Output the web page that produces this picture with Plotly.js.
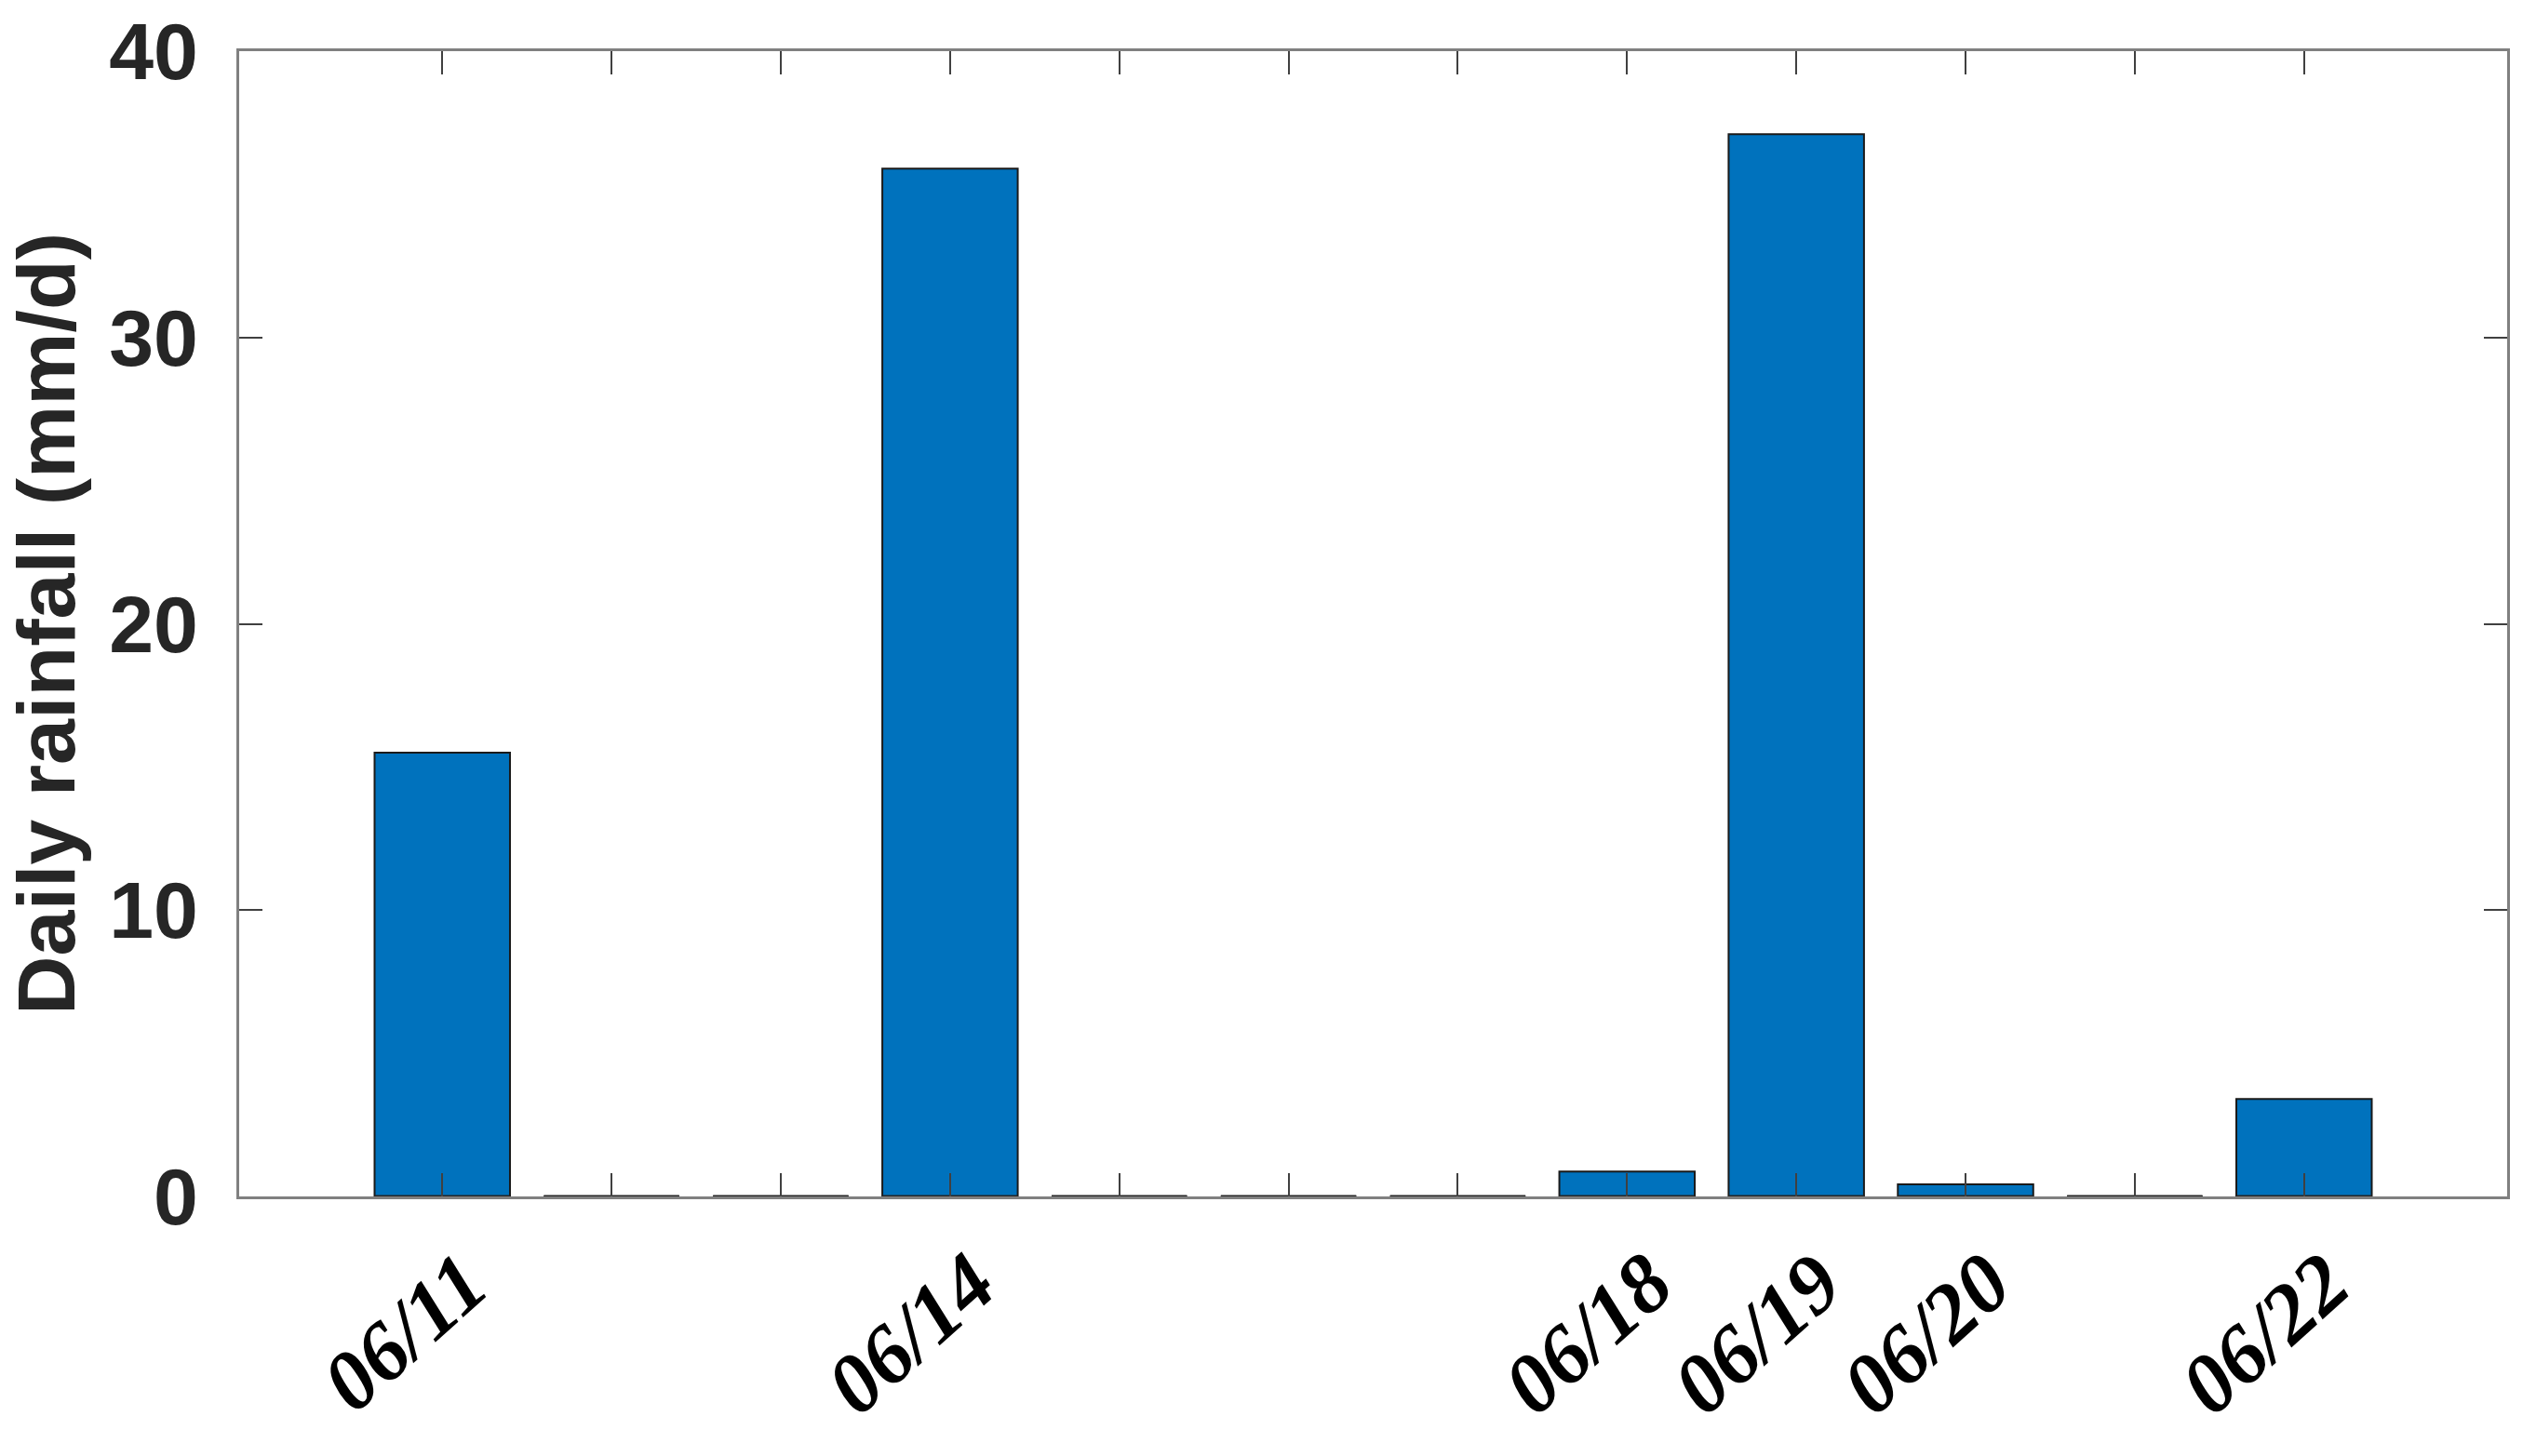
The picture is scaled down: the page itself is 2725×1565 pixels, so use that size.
<!DOCTYPE html>
<html>
<head>
<meta charset="utf-8">
<script src="https://cdn.plot.ly/plotly-3.0.1.min.js"></script>
<style>
  html, body { margin: 0; padding: 0; background: #ffffff; }
  #chart { width: 2725px; height: 1565px; }
</style>
</head>
<body>
<div id="chart"></div>
<script>
// Lluvia diaria, junio (día del mes en el eje x)
const days = [11, 12, 13, 14, 15, 16, 17, 18, 19, 20, 21, 22]
const dateLabels = ['06/11', '06/12', '06/13', '06/14', '06/15', '06/16',
  '06/17', '06/18', '06/19', '06/20', '06/21', '06/22']
const rainfall = [15.5, 0, 0, 35.9, 0, 0, 0, 0.87, 37.1, 0.42, 0, 3.4]
const yTicks = [0, 10, 20, 30, 40]

const barWidth = 0.8

// solo se rotulan los días con lluvia
const tickText = dateLabels.map((d, i) => rainfall[i] > 0 ? d : '')

// base oscura de cada barra (las de valor 0 también se ven como segmento)
const baseX = []
const baseY = []
days.forEach(d => {
  baseX.push(d - barWidth / 2, d + barWidth / 2, null)
  baseY.push(0, 0, null)
})

const traces = [
  {
    x: days,
    y: rainfall,
    type: 'bar',
    width: barWidth,
    marker: {
      color: '#0072BD',
      line: { color: '#1a1a1a', width: 2 },
    },
    hoverinfo: 'x+y',
  },
  {
    x: baseX,
    y: baseY,
    type: 'scatter',
    mode: 'lines',
    line: { color: '#262626', width: 3 },
    cliponaxis: false,
    hoverinfo: 'skip',
  },
]

const layout = {
  width: 2725,
  height: 1565,
  showlegend: false,
  plot_bgcolor: '#ffffff',
  paper_bgcolor: '#ffffff',
  margin: { l: 257, r: 31, t: 55, b: 279 },
  xaxis: {
    range: [9.8, 23.2],
    tickmode: 'array',
    tickvals: days,
    ticktext: tickText,
    tickangle: -42,
    ticks: 'inside',
    ticklen: 25,
    tickwidth: 2,
    tickcolor: '#404040',
    ticklabelstandoff: 2,
    ticklabelshift: 24,
    tickfont: { family: 'Liberation Serif', size: 90, color: '#000000', weight: 'bold', style: 'italic' },
    showline: true,
    linecolor: '#808080',
    linewidth: 3,
    mirror: 'ticks',
    showgrid: false,
    zeroline: false,
  },
  yaxis: {
    range: [0, 40],
    tickmode: 'array',
    tickvals: yTicks,
    ticks: 'inside',
    ticklen: 25,
    tickwidth: 2,
    tickcolor: '#404040',
    ticklabelstandoff: 24,
    tickfont: { family: 'Liberation Sans', size: 86, color: '#262626', weight: 'bold' },
    showline: true,
    linecolor: '#808080',
    linewidth: 3,
    mirror: 'ticks',
    showgrid: false,
    zeroline: false,
    title: {
      text: 'Daily rainfall (mm/d)',
      font: { family: 'Liberation Sans', size: 88, color: '#262626', weight: 'bold' },
      standoff: 44,
    },
  },
}

Plotly.newPlot('chart', traces, layout, { displayModeBar: false, staticPlot: true })
</script>
</body>
</html>
